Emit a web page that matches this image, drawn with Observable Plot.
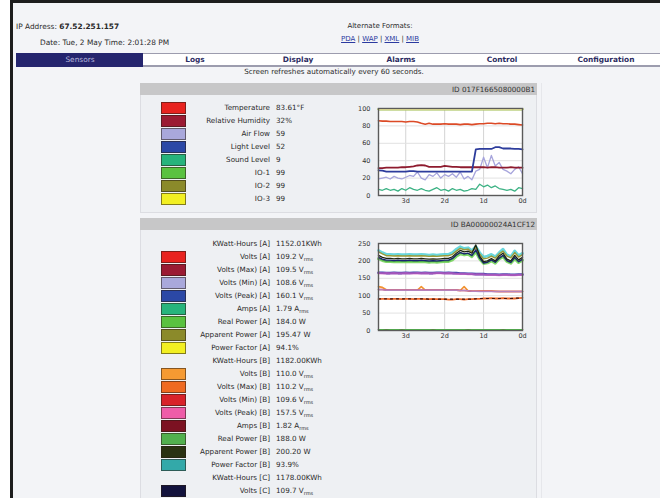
<!DOCTYPE html>
<html><head><meta charset="utf-8">
<script src="https://cdn.jsdelivr.net/npm/d3@7"></script>
<script src="https://cdn.jsdelivr.net/npm/@observablehq/plot@0.6"></script>
<style>
html,body{margin:0;padding:0;width:660px;height:498px;overflow:hidden;background:#fff;font-family:"DejaVu Sans",Verdana,sans-serif;}
#root{position:relative;width:660px;height:498px;overflow:hidden;}
.t{position:absolute;white-space:nowrap;font-size:7.2px;color:#2a2a2a;line-height:12px;}
.b{position:absolute;box-sizing:border-box;}
.t a{color:#2b3aa0;text-decoration:underline;}
.t sub{font-size:5px;vertical-align:-2px;line-height:0;}
.chart{position:absolute;}
</style></head>
<body><div id="root"></div>
<script>
// ---------- data ----------
const ipAddress = "67.52.251.157";
const dateLine = "Date: Tue, 2 May Time: 2:01:28 PM";
const altFormats = ["PDA","WAP","XML","MIB"];
const navTabs = ["Sensors","Logs","Display","Alarms","Control","Configuration"];
const refreshNote = "Screen refreshes automatically every 60 seconds.";
const sensorId = "ID 017F1665080000B1";
const powerId = "ID BA00000024A1CF12";

const sensorLabels = ["Temperature","Relative Humidity","Air Flow","Light Level","Sound Level","IO-1","IO-2","IO-3"];
const sensorReadings = ["83.61°F","32%","59","52","9","99","99","99"];
const sensorColors = ["#e8231f","#9b1b33","#a9a8db","#2b48a6","#27b47c","#5ac240","#8b8a2a","#f2ef22"];

const powerLabels = ["KWatt-Hours [A]","Volts [A]","Volts (Max) [A]","Volts (Min) [A]","Volts (Peak) [A]","Amps [A]","Real Power [A]","Apparent Power [A]","Power Factor [A]",
  "KWatt-Hours [B]","Volts [B]","Volts (Max) [B]","Volts (Min) [B]","Volts (Peak) [B]","Amps [B]","Real Power [B]","Apparent Power [B]","Power Factor [B]",
  "KWatt-Hours [C]","Volts [C]"];
const powerReadings = ["1152.01","109.2","109.5","108.6","160.1","1.79","184.0","195.47","94.1",
  "1182.00","110.0","110.2","109.6","157.5","1.82","188.0","200.20","93.9","1178.00","109.7"];
const powerUnits = ["KWh","V","V","V","V","A","W","W","%","KWh","V","V","V","V","A","W","W","%","KWh","V"];
const powerColors = [null,"#e8231f","#9b1b33","#a9a8db","#2b48a6","#27b47c","#5ac240","#8b8a2a","#f2ef22",
  null,"#f59a32","#ef6a22","#d8222a","#ee5ca8","#7c1222","#52b04e","#2a3212","#33a9a9",null,"#12123c"];

const dayTicks = [3,2,1,0];
const sensorTicks = [0,20,40,60,80,100];
const powerTicks = [0,50,100,150,200,250];

// time, in days before now
const days = [3.7,3.6,3.5,3.4,3.3,3.2,3.1,3.0,2.9,2.8,2.7,2.6,2.5,2.4,2.3,2.2,2.1,2.0,1.9,1.8,1.7,1.6,1.5,1.4,1.3,1.2,1.1,1.0,0.9,0.8,0.7,0.6,0.5,0.4,0.3,0.2,0.1,0.0];

// sensor chart
const temperature = [86,85.5,85.5,85,85,85,85,84.5,85,85, 84.5,83,82,83,82,82,82,82.5,82,82, 82,81.5,82,82,81.5,82,82.5,82.5,83,83, 82.5,83,82.5,82.5,82,82,81.5,81];
const humidity = [31.5,31.5,32,32,32,32,32.5,32.5,33,33.5, 34.5,35,34.5,33,33,33,33,34,33.5,33, 33,32.5,32.5,32.5,32.5,32.5,32.5,32.5,32,32.5, 32.5,32,32,32,32.5,32,32,32];
const airFlow = [19,20,21,19,22,20,19,21,23,22, 27,20,18,24,22,26,20,24,22,25, 21,27,19,22,18,28,30,44,32,46, 34,38,30,28,25,30,33,25];
const lightLevel = [29,28.5,27.5,27.5,27.5,27.5,27.5,27.5,28,28, 27.5,27.5,27.5,27.5,27.5,27.5,27.5,27.5,27.5,27.5, 27.5,27.5,27.5,27.5,27.5,53,53.5,53.5,53.5,53.5, 55.5,55.5,54,54,54,53.5,53.5,53];
const soundLevel = [7,6,8,6,7,5,8,6,9,7, 6,8,6,5,7,9,6,7,5,8, 6,7,5,6,8,7,13,10,12,9, 11,8,7,6,7,5,9,8];
const io1 = [99,99,99,99,99,99,99,99,99,99, 99,99,99,99,99,99,99,99,99,99, 99,99,99,99,99,99,99,99,99,99, 99,99,99,99,99,99,99,99];
const io2 = [99,99,99,99,99,99,99,99,99,99, 99,99,99,99,99,99,99,99,99,99, 99,99,99,99,99,99,99,99,99,99, 99,99,99,99,99,99,99,99];
const io3 = [99,99,99,99,99,99,99,99,99,99, 99,99,99,99,99,99,99,99,99,99, 99,99,99,99,99,99,99,99,99,99, 99,99,99,99,99,99,99,99];

// power chart
const voltsPeakA = [166,166,165,165,166,165,165,166,165,166, 166,165,166,165,165,166,166,165,166,165, 165,164,164,163,163,162,162,162,161,161, 161,160,161,161,160,160,161,161];
const voltsPeakB = [165,164,165,164,165,164,164,165,164,164, 165,164,165,164,164,165,165,164,165,164, 163,163,163,162,162,161,161,161,160,160, 160,159,160,160,159,159,160,160];
const voltsMaxB = [90,91,91,90,91,91,90,91,91,90, 91,91,90,90,91,90,90,90,89,89, 90,90,89,90,90,91,91,92,92,93, 92,92,93,92,92,92,93,94];
const voltsMaxA = [91,91,91,91,91,91,91,91,91,91, 91,91,91,90,90,90,90,90,90,90, 90,90,90,90,90,91,92,92,92,92, 92,92,92,92,92,93,93,93];
const voltsB = [126,124,117,116,116,116,116,116,116,116, 116,126,116,116,116,116,116,116,116,116, 116,115,126,114,113,113,113,113,113,113, 113,112,112,112,112,112,112,112];
const voltsA = [118,118,116,116,116,116,116,116,116,116, 116,116,116,116,116,116,116,116,116,116, 116,115,115,114,113,113,113,113,113,113, 112,112,112,112,112,112,112,112];
const voltsMinA = [117,117,116,116,116,116,116,116,116,116, 116,116,116,116,116,116,116,116,116,116, 116,115,115,114,113,113,112,112,112,112, 112,112,112,112,112,112,112,112];
const powerFactorB = [230,224,219,219,218,219,218,218,219,218, 218,219,218,217,218,217,218,219,219,224, 234,241,236,238,230,242,224,211,214,219, 212,224,234,218,213,229,216,222];
const apparentPowerA = [226,220,215,215,214,215,214,214,215,214, 214,215,214,213,214,213,214,215,215,219, 228,236,232,234,226,238,220,206,208,214, 208,220,228,214,209,224,211,218];
const apparentPowerB = [216,210,207,207,206,207,206,206,207,206, 206,207,206,205,206,205,206,207,207,212, 222,230,226,228,222,246,214,198,200,207, 200,214,222,205,200,216,203,210];
const voltsC = [210,205,202,202,201,202,201,201,202,201, 201,202,201,200,201,200,201,202,202,207, 217,224,220,222,216,232,208,194,196,203, 196,208,216,201,196,210,198,205];
const realPowerA = [206,201,198,198,197,198,197,197,198,197, 197,198,197,196,197,196,197,198,198,203, 213,220,217,219,212,226,205,192,194,200, 193,205,212,198,193,206,195,202];
const realPowerB = [208,203,199,200,199,200,199,199,200,199, 199,200,199,198,199,198,199,200,200,206, 216,224,220,222,214,229,207,194,197,202, 196,207,214,200,195,208,197,204];
const ampsA = [1.8,1.8,1.7,1.8,1.8,1.8,1.7,1.8,1.8,1.8, 1.8,1.9,1.8,1.8,1.7,1.8,1.8,1.8,1.8,1.9, 1.8,1.8,1.8,1.7,1.8,1.8,1.8,1.8,1.9,1.8, 1.8,1.8,1.7,1.8,1.8,1.8,1.8,1.8];
const ampsB = [1.8,1.8,1.8,1.9,1.8,1.8,1.8,1.8,1.8,1.9, 1.8,1.8,1.8,1.8,1.8,1.8,1.9,1.8,1.8,1.8, 1.8,1.9,1.8,1.8,1.8,1.8,1.8,1.8,1.8,1.9, 1.8,1.8,1.8,1.8,1.9,1.8,1.8,1.8];

// ---------- page ----------
const root = document.getElementById("root");
function box(x,y,w,h,css){const d=document.createElement("div");d.className="b";Object.assign(d.style,{left:x+"px",top:y+"px",width:w+"px",height:h+"px"},css||{});root.appendChild(d);return d;}
function txt(html,x,y,o){o=o||{};const d=document.createElement("div");d.className="t";d.innerHTML=html;d.style.top=(y-6)+"px";
  if(o.align==="right"){d.style.right=(660-x)+"px";}
  else if(o.align==="center"){d.style.left=(x-200)+"px";d.style.width="400px";d.style.textAlign="center";}
  else d.style.left=x+"px";
  if(o.size)d.style.fontSize=o.size+"px"; if(o.weight)d.style.fontWeight=o.weight; if(o.color)d.style.color=o.color;
  root.appendChild(d);return d;}

// frame & backgrounds
box(10,0,650,498,{background:"#f3f4f7",borderLeft:"3px solid #1d1d1d",borderTop:"3px solid #1d1d1d"});
// header
txt("IP Address: <b>"+ipAddress+"</b>",16,27,{size:7.4});
txt(dateLine,40,43,{size:7.4});
txt("Alternate Formats:",380,26,{align:"center",size:7});
txt(altFormats.map(f=>"<a>"+f+"</a>").join(" | "),380,39,{align:"center",size:7});
// nav bar
box(16,53,644,14,{background:"#ffffff",borderTop:"1px solid #9c9cae",borderBottom:"2px solid #9c9cae"});
box(16,53,127,14,{background:"#25256e"});
const tabCenters=[80,195,298,401,502,606];
navTabs.forEach((n,i)=>txt(n,tabCenters[i],60,{align:"center",size:7.4,weight:i===0?"normal":"bold",color:i===0?"#b9badf":"#2c2c62"}));
txt(refreshNote,334,72,{align:"center",size:7.2});

// panels
function panel(y0,hHead,y1,id){
  box(140,y0,397,hHead,{background:"#c7c7c8"});
  box(140,y0+hHead,397,y1-(y0+hHead),{background:"#eef0f3",border:"1px solid #dcdde2",borderTop:"none"});
  txt(id,535,y0+hHead/2+0.5,{align:"right",size:7.2,color:"#333"});
}
panel(83,12,213,sensorId);
panel(218,12,520,powerId);
box(541,83,1,420,{background:"#e6e7eb"});

function legendRow(label,value,color,y){
  if(color) box(161,y-6,25,12,{background:color,border:"1px solid rgba(40,30,20,0.55)"});
  txt(label,270,y,{align:"right"});
  txt(value,276,y);
}
sensorLabels.forEach((l,i)=>legendRow(l,sensorReadings[i],sensorColors[i],108+i*13.05));
powerLabels.forEach((l,i)=>{
  const u=powerUnits[i];
  let v=powerReadings[i];
  if(u==="V"||u==="A") v+=" "+u+"<sub>rms</sub>";
  else if(u==="W") v+=" W";
  else v+=u;
  legendRow(l,v,powerColors[i],243.5+i*13.05);
});

// ---------- charts ----------
function ln(vals,color,width,extra){return Plot.line(days.map((t,i)=>({t,v:vals[i]})),Object.assign({x:"t",y:"v",stroke:color,strokeWidth:width,curve:"linear"},extra||{}));}
const baseStyle={background:"transparent",fontFamily:"DejaVu Sans",fontSize:"6.5px",color:"#333",overflow:"visible"};
function chart(yDomain,yTicks,marks){
  return Plot.plot({
    width:190,height:110,marginLeft:38,marginRight:8,marginTop:8,marginBottom:15,
    style:baseStyle,
    x:{domain:[3.7,0],ticks:dayTicks,tickFormat:d=>d+"d",tickSize:0,tickPadding:3,label:null},
    y:{domain:yDomain,ticks:yTicks,tickSize:0,tickPadding:8,label:null},
    marks:[
      Plot.frame({fill:"white"}),
      Plot.gridX(dayTicks.slice(0,3),{stroke:"#d4d4d4",strokeOpacity:1}),
      Plot.gridY(yTicks.slice(1,-1),{stroke:"#e2e2e2",strokeOpacity:1}),
      ...marks,
      Plot.frame({stroke:"#5a5a5a",strokeWidth:1.4})
    ]
  });
}
const c1=chart([0,100],sensorTicks,[
  ln(io1,sensorColors[5],2),ln(io2,sensorColors[6],2),ln(io3,"#f4f09a",2),
  ln(soundLevel,"#3cb284",1.3),
  ln(airFlow,"#a7a5dc",1.3),
  ln(humidity,"#8e1b2e",1.8),
  ln(lightLevel,"#2d3c9c",1.8),
  ln(temperature,"#dc4a26",1.6)
]);
c1.classList.add("chart");c1.style.left="340px";c1.style.top="100px";root.appendChild(c1);

const c2=chart([0,250],powerTicks,[
  ln(ampsB,powerColors[14],1.5),ln(ampsA,"#4fb84a",1.5),
  ln(voltsMaxB,"#ec6a2c",1.8),ln(voltsMaxA,"#3a1010",1.2,{strokeDasharray:"2,4"}),
  ln(voltsB,"#f29330",1.6),ln(voltsA,"#d8222a",1.6),ln(voltsMinA,"#b294d6",1.6,{strokeOpacity:0.85}),
  ln(voltsPeakA,"#3b47b0",2.6),ln(voltsPeakB,"#d25cc0",2.2,{strokeOpacity:0.7}),
  ln(realPowerA,"#74d45a",2.8,{strokeOpacity:0.9}),
  ln(powerFactorB,"#4fd0d6",2.6,{strokeOpacity:0.85}),
  ln(apparentPowerA,"#9a9a38",1.4),
  ln(realPowerB,"#3f9a44",1.2),
  ln(voltsC,"#1a2370",1.3),
  ln(apparentPowerB,"#1c2410",1.3)
]);
c2.classList.add("chart");c2.style.left="340px";c2.style.top="235px";root.appendChild(c2);
</script></body></html>
